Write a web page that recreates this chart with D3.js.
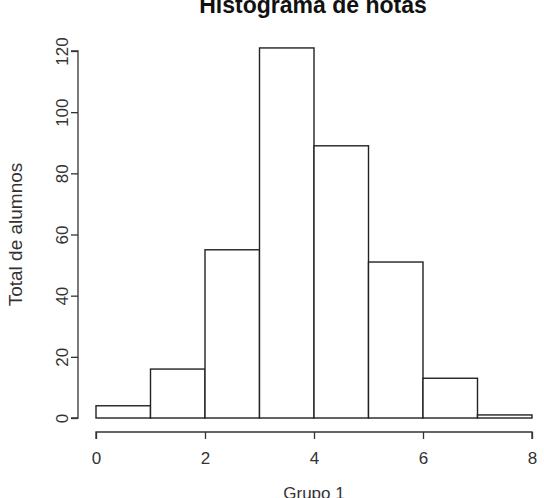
<!DOCTYPE html>
<html>
<head>
<meta charset="utf-8">
<script src="https://cdn.jsdelivr.net/npm/d3@7"></script>
<style>
  html, body { margin: 0; padding: 0; background: #fff; }
  svg { display: block; }
  text { font-family: "Liberation Sans", Arial, sans-serif; fill: #333; }
</style>
</head>
<body>
<svg id="chart" width="544" height="498"></svg>
<script>
// Data
const binStarts = [0, 1, 2, 3, 4, 5, 6, 7];
const binEnds   = [1, 2, 3, 4, 5, 6, 7, 8];
const counts    = [4, 16, 55, 121, 89, 51, 13, 1];
const xTicks = [0, 2, 4, 6, 8];
const yTicks = [0, 20, 40, 60, 80, 100, 120];
const title = "Histograma de notas";
const xLabel = "Grupo 1";
const yLabel = "Total de alumnos";

const svg = d3.select("#chart");
const x = d3.scaleLinear().domain([0, 8]).range([96, 532]);
const y = d3.scaleLinear().domain([0, 120]).range([418, 51]);

// Bars
svg.append("g").selectAll("rect")
  .data(counts)
  .join("rect")
  .attr("x", (d, i) => x(binStarts[i]))
  .attr("width", (d, i) => x(binEnds[i]) - x(binStarts[i]))
  .attr("y", d => y(d))
  .attr("height", d => y(0) - y(d))
  .attr("fill", "#fff")
  .attr("stroke", "#222")
  .attr("stroke-width", 1.4);

// X axis
const xAxis = d3.axisBottom(x).tickValues(xTicks).tickFormat(d3.format("d")).tickSize(7).tickPadding(13);
const gx = svg.append("g").attr("transform", "translate(0,432)").call(xAxis);
gx.select(".domain").attr("d", `M${x(0)},7V0H${x(8)}V7`);

// Y axis
const yAxis = d3.axisLeft(y).tickValues(yTicks).tickFormat(d3.format("d")).tickSize(7).tickPadding(0);
const gy = svg.append("g").attr("transform", "translate(78,0)").call(yAxis);
gy.select(".domain").attr("d", `M-7,${y(0)}H0V${y(120)}H-7`);
gy.selectAll(".tick text")
  .attr("x", null).attr("dy", null)
  .attr("text-anchor", "middle")
  .attr("transform", "translate(-10,0) rotate(-90)");

[gx, gy].forEach(g => {
  g.selectAll(".domain, .tick line").attr("stroke", "#333").attr("stroke-width", 1.3);
  g.selectAll("text").attr("font-size", 17).attr("fill", "#333")
    .attr("font-family", "Liberation Sans, Arial, sans-serif");
});

// Title (partly cut at top edge, as in the reference)
svg.append("text")
  .attr("x", 313).attr("y", 13)
  .attr("text-anchor", "middle")
  .attr("font-size", 23).attr("font-weight", "bold")
  .style("fill", "#111")
  .text(title);

// Axis labels
svg.append("text")
  .attr("x", x(4)).attr("y", 499)
  .attr("text-anchor", "middle")
  .attr("font-size", 17)
  .text(xLabel);

svg.append("text")
  .attr("transform", `translate(22,${y(60)}) rotate(-90)`)
  .attr("text-anchor", "middle")
  .attr("font-size", 19)
  .text(yLabel);
</script>
</body>
</html>
